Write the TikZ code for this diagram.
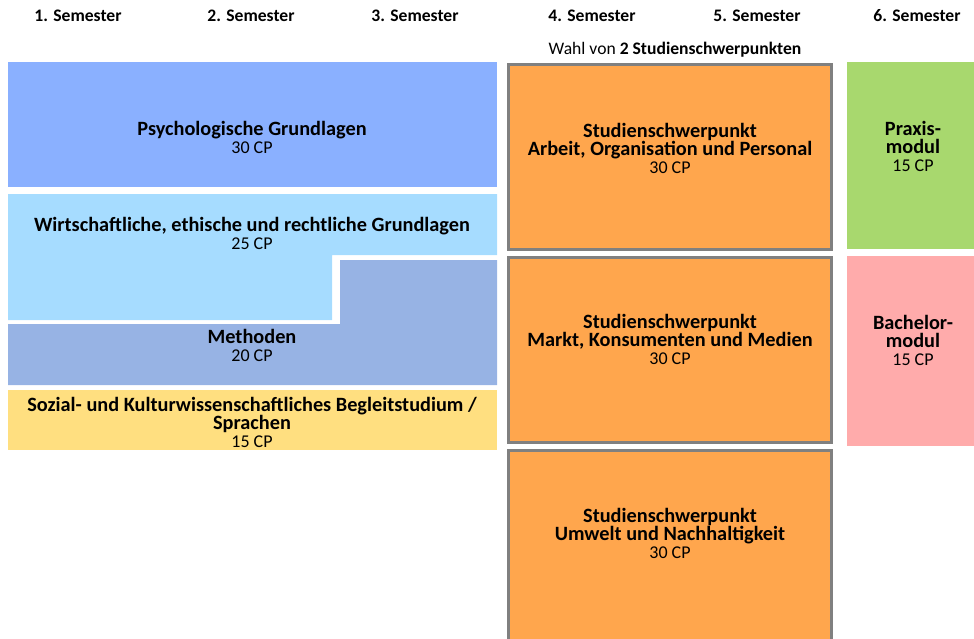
\documentclass[tikz,border=0pt]{standalone}
\usepackage{fontspec}
\setmainfont{Carlito}
\usetikzlibrary{positioning}
\definecolor{psychblau}{HTML}{8AB0FF}
\definecolor{wirtblau}{HTML}{A6DCFF}
\definecolor{methblau}{HTML}{97B3E4}
\definecolor{sozgelb}{HTML}{FFDF80}
\definecolor{schwerorange}{HTML}{FFA64D}
\definecolor{praxisgruen}{HTML}{A8D86E}
\definecolor{bachelorrot}{HTML}{FFABAB}
\definecolor{randgrau}{HTML}{808080}
\newcommand{\cpwert}[1]{{\fontsize{18}{18}\selectfont\mdseries #1 CP}}
\begin{document}
\begin{tikzpicture}[x=1pt,y=-1pt,
  every node/.style = {align=center, inner sep=0pt,
    font=\bfseries\fontsize{20.3}{18}\selectfont},
  semester/.style = {font=\bfseries\fontsize{17.6}{18}\selectfont},
  schwerbox/.style = {draw=randgrau, line width=3pt, fill=schwerorange}
  ]
  \useasboundingbox (0,0) rectangle (974,638);
  \clip (0,0) rectangle (974,638);
  % Kopfzeile
  \node[semester] (s1) at (78,16) {1. Semester};
  \node[semester] (s2) at (251,16) {2. Semester};
  \node[semester] (s3) at (415,16) {3. Semester};
  \node[semester] (s4) at (592,16) {4. Semester};
  \node[semester] (s5) at (757,16) {5. Semester};
  \node[semester] (s6) at (917,16) {6. Semester};
  \node[font=\fontsize{17.6}{18}\selectfont] (wahl) at (675,50) {Wahl von \textbf{2 Studienschwerpunkten}};
  % Semester 1 bis 3
  \fill[psychblau] (8,62) rectangle (497,187);
  \fill[wirtblau] (8,194) -- (497,194) -- (497,255) -- (332,255)
    -- (332,320) -- (8,320) -- cycle;
  \fill[methblau] (340,260) -- (497,260) -- (497,385) -- (8,385)
    -- (8,324) -- (340,324) -- cycle;
  \fill[sozgelb] (8,390) rectangle (497,450);
  \node (psych) at (252,137) {Psychologische Grundlagen\\\cpwert{30}};
  \node (wirt) at (252,233) {Wirtschaftliche, ethische und rechtliche Grundlagen\\\cpwert{25}};
  \node (meth) at (252,345.5) {Methoden\\\cpwert{20}};
  \node (soz) at (252,422) {Sozial- und Kulturwissenschaftliches Begleitstudium /\\Sprachen\\\cpwert{15}};
  % Studienschwerpunkte
  \draw[schwerbox] (508.5,64.5) rectangle (831.5,249.5);
  \draw[schwerbox] (508.5,257.5) rectangle (831.5,442.5);
  \draw[schwerbox] (508.5,450.5) rectangle (831.5,660);
  \node (aop) at (670,148) {Studienschwerpunkt\\Arbeit, Organisation und Personal\\\cpwert{30}};
  \node (mkm) at (670,339) {Studienschwerpunkt\\Markt, Konsumenten und Medien\\\cpwert{30}};
  \node (un) at (670,533) {Studienschwerpunkt\\Umwelt und Nachhaltigkeit\\\cpwert{30}};
  % Semester 6
  \fill[praxisgruen] (847,62) rectangle (974,249);
  \fill[bachelorrot] (847,256) rectangle (974,446);
  \node (praxis) at (913,146) {Praxis-\\modul\\\cpwert{15}};
  \node (bachelor) at (913,340) {Bachelor-\\modul\\\cpwert{15}};
\end{tikzpicture}
\end{document}
